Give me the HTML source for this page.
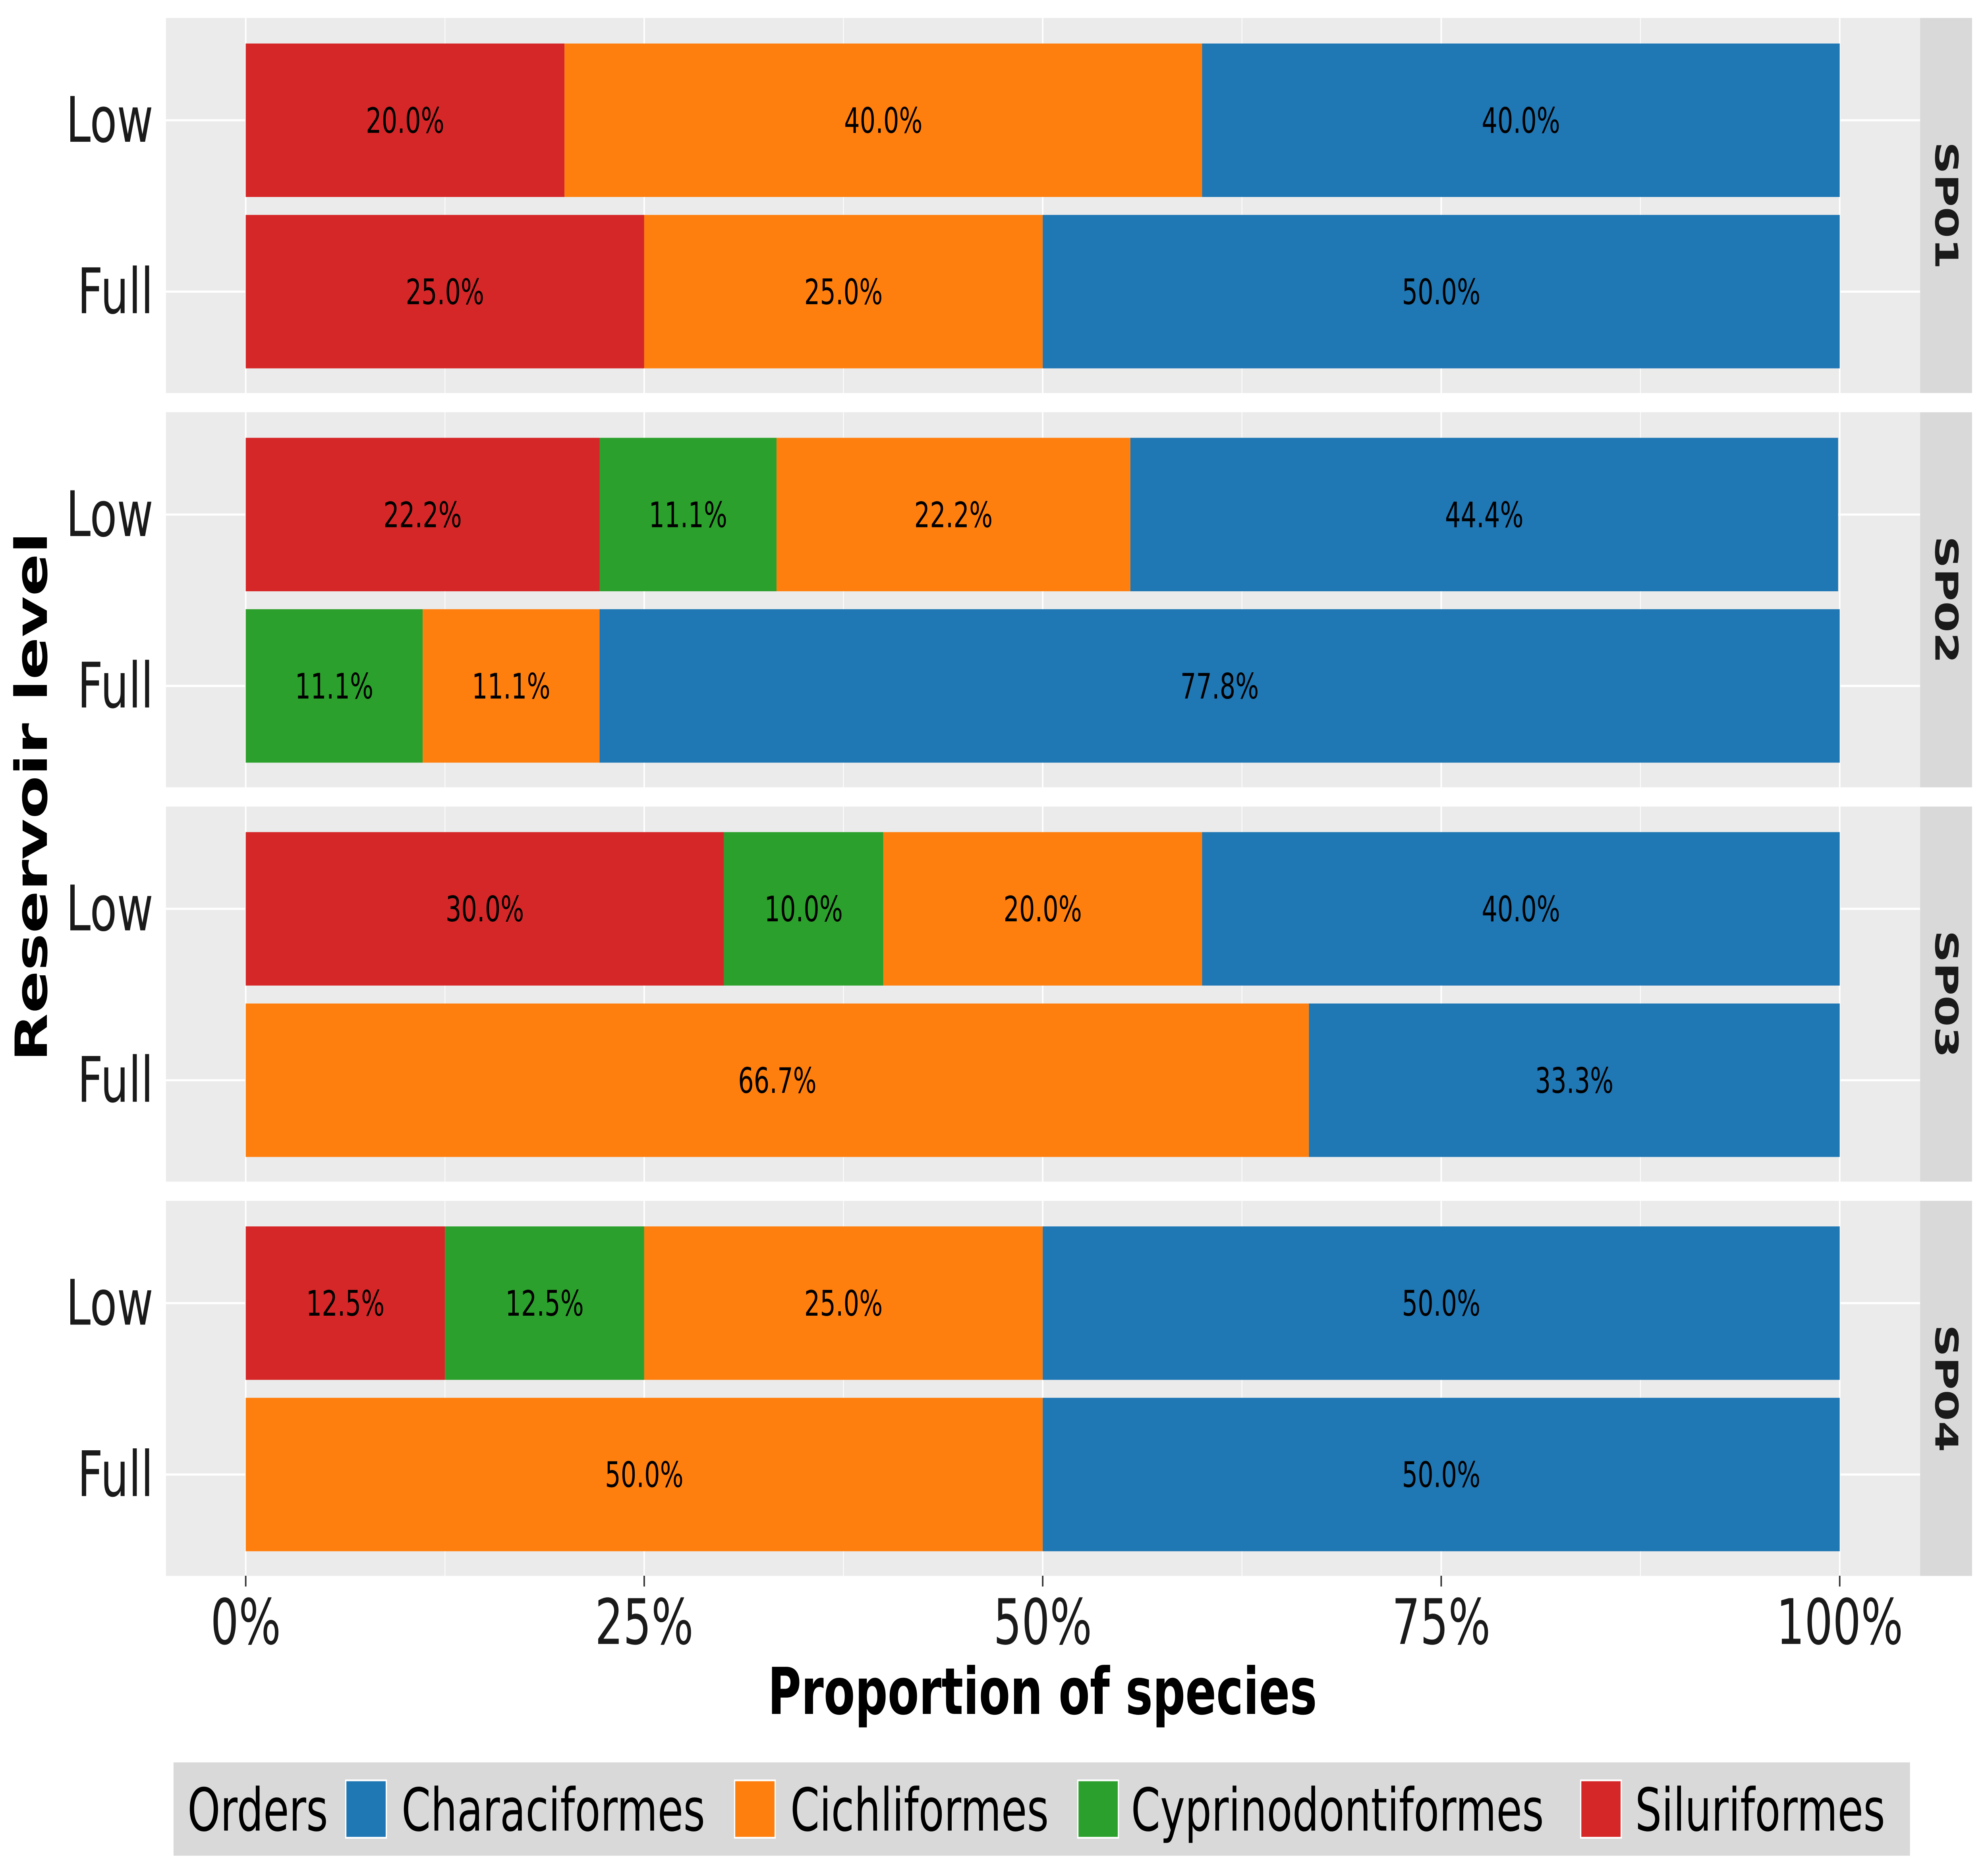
<!DOCTYPE html>
<html><head><meta charset="utf-8"><style>
html,body{margin:0;padding:0;background:#fff;width:100%;height:100%;overflow:hidden;}
svg{display:block;position:fixed;left:0;top:0;width:100vw;height:100vh;font-family:"DejaVu Sans","Liberation Sans",sans-serif;}
</style></head><body>
<svg id="chart" viewBox="0 0 1568 1045.3" preserveAspectRatio="none" xmlns="http://www.w3.org/2000/svg">
<g id="panels"></g>
<g id="xticks"></g>
<text x="823" y="955" font-size="36" font-weight="bold" text-anchor="middle">Proportion of species</text>
<text transform="translate(37,444) rotate(-90)" font-size="35" font-weight="bold" text-anchor="middle">Reservoir level</text>
<g>
<rect x="137" y="982" width="1371" height="52" fill="#d9d9d9"/>
<text x="148" y="1020" font-size="33">Orders</text>
<rect x="273" y="992" width="32" height="32" fill="#1f77b4" stroke="#fff" stroke-width="1"/>
<text x="317" y="1020" font-size="33">Characiformes</text>
<rect x="580" y="992" width="32" height="32" fill="#ff7f0e" stroke="#fff" stroke-width="1"/>
<text x="624" y="1020" font-size="33">Cichliformes</text>
<rect x="851" y="992" width="32" height="32" fill="#2ca02c" stroke="#fff" stroke-width="1"/>
<text x="893" y="1020" font-size="33">Cyprinodontiformes</text>
<rect x="1248" y="992" width="32" height="32" fill="#d62728" stroke="#fff" stroke-width="1"/>
<text x="1291" y="1020" font-size="33">Siluriformes</text>
</g>
</svg>
<script>
const sites = ["SP01","SP02","SP03","SP04"];
const levels = ["Low","Full"];
const orders = ["Siluriformes","Cyprinodontiformes","Cichliformes","Characiformes"];
const colors = ["#d62728","#2ca02c","#ff7f0e","#1f77b4"];
// values per site, per level [Low, Full], per order (Siluriformes, Cyprinodontiformes, Cichliformes, Characiformes)
const sp01 = [[20.0,0,40.0,40.0],[25.0,0,25.0,50.0]];
const sp02 = [[22.2,11.1,22.2,44.4],[0,11.1,11.1,77.8]];
const sp03 = [[30.0,10.0,20.0,40.0],[0,0,66.7,33.3]];
const sp04 = [[12.5,12.5,25.0,50.0],[0,0,50.0,50.0]];
const siteValues = [sp01,sp02,sp03,sp04];
const xTicks = [0,25,50,75,100];
const xTickLabels = ["0%","25%","50%","75%","100%"];

const NS="http://www.w3.org/2000/svg";
const X0=194, X1=1452.5;
const xs = v => X0 + (X1-X0)*v/100;
const panelTop = i => 10 + i*219.7;
const PH=209;
const yCenter = (i,j) => panelTop(i) + (j===0?57:152.5);
const BH=85.5;
function mk(tag, attrs, parent){const e=document.createElementNS(NS,tag);for(const k in attrs)e.setAttribute(k,attrs[k]);parent.appendChild(e);return e;}
const panels=document.getElementById('panels');
sites.forEach((s,i)=>{
  const g=mk('g',{},panels);
  
  
  const t=panelTop(i);
  mk('rect',{x:131,y:t,width:1385,height:PH,fill:'#ebebeb'},g);
  [12.5,37.5,62.5,87.5].forEach(v=>mk('line',{x1:xs(v),x2:xs(v),y1:t,y2:t+PH,stroke:'#fff','stroke-width':0.6},g));
  xTicks.forEach(v=>mk('line',{x1:xs(v),x2:xs(v),y1:t,y2:t+PH,stroke:'#fff','stroke-width':1.2},g));
  levels.forEach((l,j)=>{
    const yc=yCenter(i,j);
    mk('line',{x1:131,x2:1516,y1:yc,y2:yc,stroke:'#fff','stroke-width':1.2},g);
    const lab=mk('text',{x:121,y:yc+12,'font-size':35,'text-anchor':'end',fill:'#1a1a1a'},g);
    lab.textContent=l;
    
    
    let cum=0;
    siteValues[i][j].forEach((v,k)=>{
      if(v<=0) return;
      const r=mk('rect',{x:xs(cum),y:yc-BH/2,width:xs(cum+v)-xs(cum),height:BH,fill:colors[k]},g);
      
      
      const tx=mk('text',{x:xs(cum+v/2),y:yc+7,'font-size':19.5,'text-anchor':'middle',fill:'#000'},g);
      tx.textContent=v.toFixed(1)+'%';
      
      
      cum+=v;
    });
  });
  mk('rect',{x:1516,y:t,width:41,height:PH,fill:'#d9d9d9'},g);
  const st=mk('text',{transform:`translate(1528,${t+PH/2}) rotate(90)`,'font-size':25,'font-weight':'bold','text-anchor':'middle',fill:'#1a1a1a'},g);
  st.textContent=s;
  
  
});
const xt=document.getElementById('xticks');
xTicks.forEach((v,i)=>{
  mk('line',{x1:xs(v),x2:xs(v),y1:878,y2:884,stroke:'#333','stroke-width':1.2},xt);
  const t=mk('text',{x:xs(v),y:916,'font-size':35,'text-anchor':'middle',fill:'#1a1a1a'},xt);
  t.textContent=xTickLabels[i];
  
  
});
</script>
</body></html>
